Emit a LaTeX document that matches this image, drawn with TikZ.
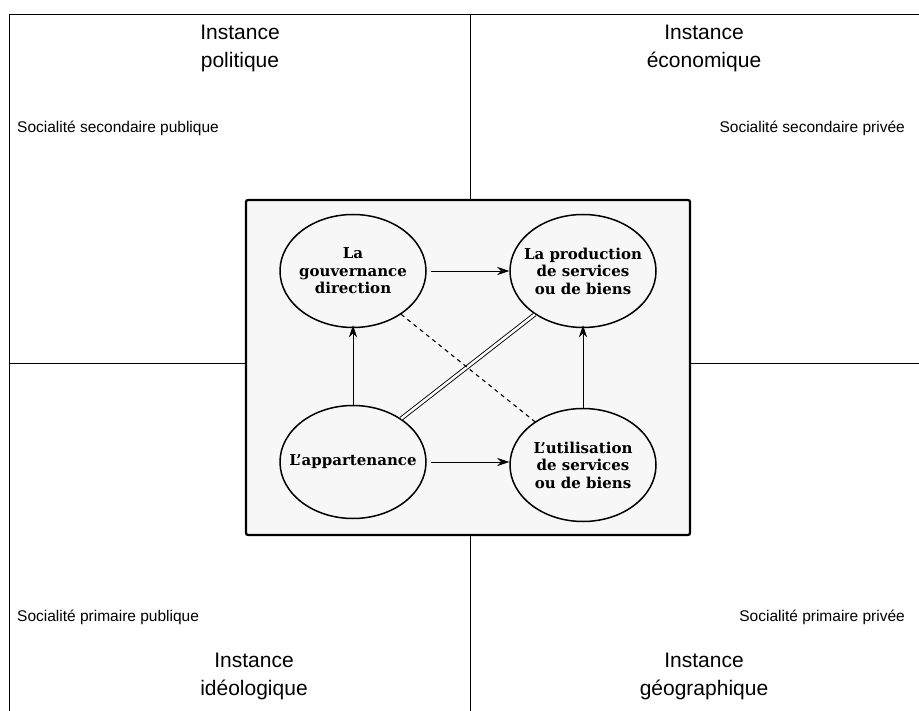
\documentclass[tikz,border=0pt]{standalone}
\usepackage{fontspec}
\setmainfont{DejaVu Serif}
\setsansfont{Liberation Sans}
\usetikzlibrary{arrows.meta,shapes.geometric}

\tikzset{
  instance/.style={font=\sffamily\fontsize{21}{28}\selectfont, align=center, inner sep=0pt},
  socialite/.style={font=\sffamily\fontsize{15.5}{18}\selectfont, inner sep=0pt},
  pole/.style={draw, ellipse, line width=1.5pt, minimum width=146pt, minimum height=113pt,
    inner xsep=-12pt, inner ysep=0pt, font=\bfseries\fontsize{15}{17.5}\selectfont, align=center},
  fleche/.style={-{Stealth[length=12pt,width=8pt]}, line width=0.7pt},
}

\begin{document}
\begin{tikzpicture}[x=1pt,y=-1pt]
\useasboundingbox (0,0) rectangle (919,711);

%draw frame and quadrants
\draw[line width=1pt] (9,711) -- (9,15) -- (919,15);
\draw[line width=1pt] (470,15) -- (470,711);
\draw[line width=1pt] (9,364) -- (919,364);

%central box
\draw[line width=2.2pt, fill=black!3, rounded corners=2pt] (246,200) rectangle (690,535);

%instances
\node[instance, anchor=base] (pol) at (240,68) {Instance\\politique};
\node[instance, anchor=base] (eco) at (704,68) {Instance\\économique};
\node[instance, anchor=base] (ideo) at (254,695) {Instance\\idéologique};
\node[instance, anchor=base] (geo) at (704,695) {Instance\\géographique};

\node[socialite, anchor=west] (secpub) at (17,128) {Socialité secondaire publique};
\node[socialite, anchor=east] (secpri) at (905,128) {Socialité secondaire privée};
\node[socialite, anchor=west] (pripub) at (17,617) {Socialité primaire publique};
\node[socialite, anchor=east] (pripri) at (905,617) {Socialité primaire privée};

%poles
\node[pole] (gouv) at (353,271) {La\\gouvernance\\direction};
\node[pole] (prod) at (583,271) {La production\\de services\\ou de biens};
\node[pole] (app) at (353,462) {L'appartenance};
\node[pole] (util) at (583,465) {L'utilisation\\de services\\ou de biens};

%links
\draw[fleche] ([xshift=4pt]gouv.east) -- (prod.west);
\draw[fleche] ([xshift=4pt]app.east) -- (app.east -| util.west);
\draw[fleche] (app.north) -- ([yshift=3pt]gouv.south);
\draw[fleche] (util.north) -- ([yshift=3pt]prod.south);
\draw[double, double distance=2.5pt, line width=0.9pt] (app.42) -- (prod.222);
\draw[dashed, dash pattern=on 4pt off 4pt, line width=1.1pt] (gouv.-42) -- (util.138);
\end{tikzpicture}
\end{document}
